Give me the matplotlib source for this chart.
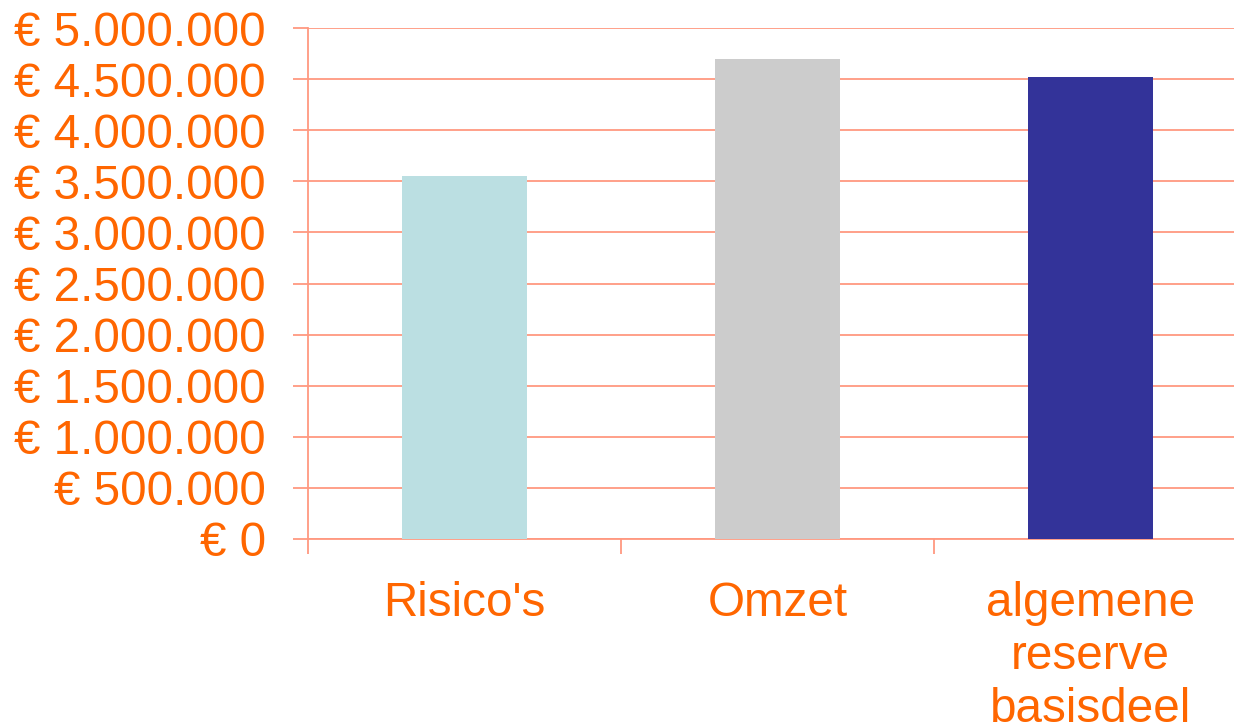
import numpy as np
import matplotlib
matplotlib.use('Agg')
import matplotlib.pyplot as plt
from matplotlib.ticker import FuncFormatter, FixedLocator

# data
categories = ["Risico's", "Omzet", "algemene\nreserve\nbasisdeel"]
values = [3550000, 4700000, 4520000]
bar_colors = ['#BBDFE2', '#CCCCCC', '#333399']

orange = '#FF6600'
salmon = '#FF9980'

plt.rcParams['font.family'] = ['Liberation Sans', 'DejaVu Sans']

fig = plt.figure(figsize=(12.34, 7.27), dpi=100)
# axes extends a bit past the right edge, like the original
ax = fig.add_axes([308 / 1234, (727 - 539) / 727, 939 / 1234, 511 / 727])

x = np.arange(len(categories))
ax.bar(x, values, width=0.4, color=bar_colors, zorder=3)

ax.set_xlim(-0.5, len(categories) - 0.5)
ax.set_ylim(0, 5000000)

def euro(v, pos):
    if v == 0:
        return '€ 0'
    return '€ ' + '{:,.0f}'.format(v).replace(',', '.')

ax.yaxis.set_major_locator(FixedLocator(np.arange(0, 5000001, 500000)))
ax.yaxis.set_major_formatter(FuncFormatter(euro))
ax.grid(axis='y', color=salmon, linewidth=1.3, zorder=0)

ax.set_xticks(x)
ax.set_xticklabels(categories, linespacing=1.23)
ax.set_xticks(np.arange(-0.5, len(categories)), minor=True)
ax.tick_params(axis='x', which='major', length=0, pad=30, labelsize=34.3, labelcolor=orange)
ax.tick_params(axis='x', which='minor', length=10.5, width=1.3, color=salmon)
ax.tick_params(axis='y', length=10.5, width=1.3, color=salmon, pad=20, labelsize=34.3, labelcolor=orange)

for side in ['top', 'right']:
    ax.spines[side].set_visible(False)
for side in ['left', 'bottom']:
    ax.spines[side].set_color(salmon)
    ax.spines[side].set_linewidth(1.3)

plt.savefig('out.png', dpi=100)
